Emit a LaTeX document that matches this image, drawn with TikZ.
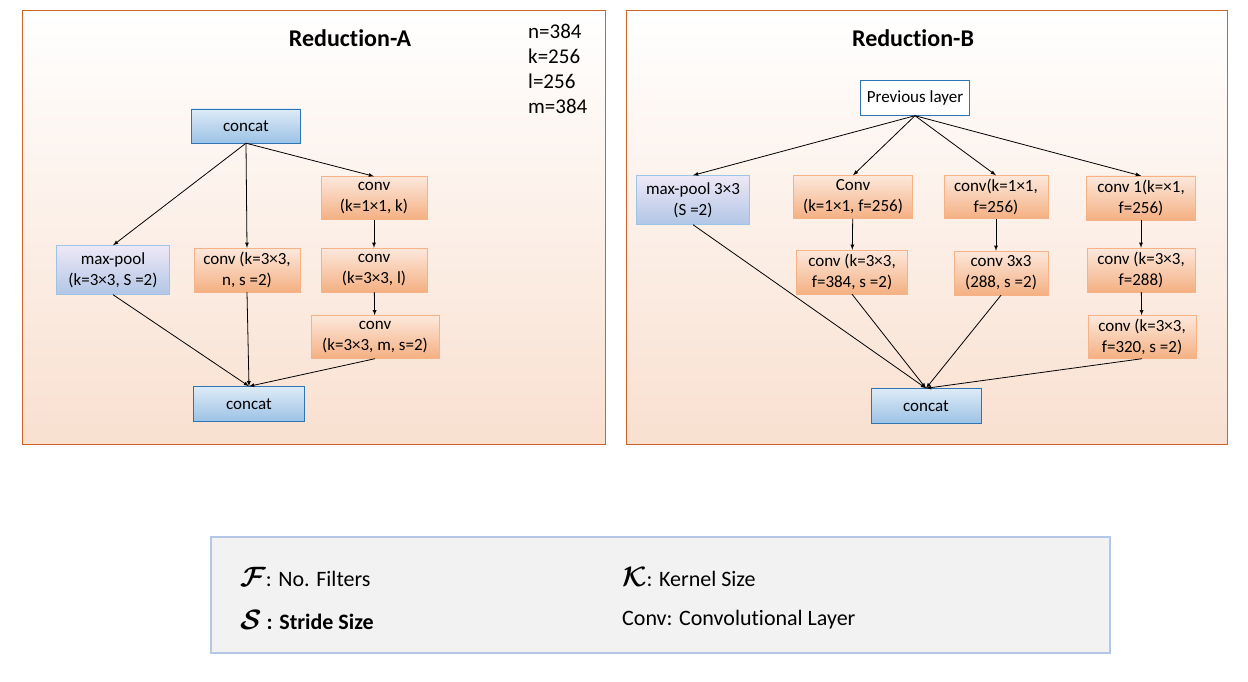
\documentclass[tikz,border=0pt]{standalone}
\usepackage{fontspec}
\setmainfont{Carlito}[Ligatures=NoCommon]
\usepackage{amsmath}
\usepackage{color}

\definecolor{panelline}{RGB}{206,100,40}
\definecolor{panelbot}{RGB}{249,224,208}
\definecolor{convtop}{RGB}{252,232,220}
\definecolor{convbot}{RGB}{244,176,130}
\definecolor{convline}{RGB}{246,178,132}
\definecolor{cattop}{RGB}{222,235,247}
\definecolor{catbot}{RGB}{156,194,229}
\definecolor{catline}{RGB}{46,117,182}
\definecolor{pooltop}{RGB}{238,232,246}
\definecolor{poolbot}{RGB}{178,198,230}
\definecolor{poolline}{RGB}{157,195,230}
\definecolor{keyfill}{RGB}{242,242,242}
\definecolor{keyline}{RGB}{180,199,231}

\newcommand{\keysym}[1]{\scalebox{1.35}{$\boldsymbol{\mathcal{#1}}$}}

\begin{document}
\begin{tikzpicture}
  [x=1pt,y=-1pt]
      \tikzstyle{edge_style} = [draw=black, line width=0.8, -latex]
      \tikzstyle{panel_style} = [draw=panelline, line width=1, top color=white, bottom color=panelbot]
      \tikzstyle{box_style} = [align=center, inner sep=0, font=\fontsize{17}{21}\selectfont]
      \tikzstyle{conv_style} = [box_style, draw=convline, top color=convtop, bottom color=convbot]
      \tikzstyle{cat_style} = [box_style, draw=catline, top color=cattop, bottom color=catbot]
      \tikzstyle{pool_style} = [box_style, draw=poolline, top color=pooltop, bottom color=poolbot]
      \tikzstyle{key_style} = [font=\fontsize{22}{24}\selectfont, anchor=west, inner sep=0]
  \useasboundingbox (0,0) rectangle (1248,682);

  % panels
  \draw[panel_style] (22,11) rectangle (605,444);
  \draw[panel_style] (626,11) rectangle (1227,444);
  \node[font=\fontsize{24}{28}\selectfont\bfseries] (ta) at (350,38) {Reduction-A};
  \node[font=\fontsize{24}{28}\selectfont\bfseries] (tb) at (913,38) {Reduction-B};
  \node[font=\fontsize{21}{25}\selectfont, align=left, anchor=north west, inner sep=0] (par) at (528,24)
    {n=384\\k=256\\l=256\\m=384};

  % Reduction-A
  \node[cat_style, minimum width=109, minimum height=34] (a0) at (246,126) {concat};
  \node[conv_style, minimum width=106, minimum height=43] (a1) at (374,198) {conv\\(k=1×1, k)};
  \node[pool_style, minimum width=113, minimum height=49] (a2) at (113,270) {max-pool\\(k=3×3, S =2)};
  \node[conv_style, minimum width=106, minimum height=44] (a3) at (247,270) {conv (k=3×3,\\n, s =2)};
  \node[conv_style, minimum width=106, minimum height=44] (a4) at (374,270) {conv\\(k=3×3, l)};
  \node[conv_style, minimum width=128, minimum height=43] (a5) at (375,337) {conv\\(k=3×3, m, s=2)};
  \node[cat_style, minimum width=111, minimum height=35] (a6) at (249,404) {concat};

  \draw[edge_style] (a0.south) -- (a2.north);
  \draw[edge_style] (a0.south) -- (a3.north);
  \draw[edge_style] (a0.south) -- (a1.north);
  \draw[edge_style] (a1) -- (a4);
  \draw[edge_style] (a4) -- (a5);
  \draw[edge_style] (a2.south) -- (a6.north);
  \draw[edge_style] (a3.south) -- (a6.north);
  \draw[edge_style] (a5.south) -- (a6.north);

  % Reduction-B
  \node[box_style, draw=catline, fill=white, minimum width=109, minimum height=35] (b0) at (915,98) {Previous layer};
  \node[pool_style, minimum width=113, minimum height=49] (b1) at (693,200) {max-pool 3×3\\(S =2)};
  \node[conv_style, minimum width=119, minimum height=43] (b2) at (853,197) {Conv\\(k=1×1, f=256)};
  \node[conv_style, minimum width=104, minimum height=43] (b3) at (996,197) {conv(k=1×1,\\f=256)};
  \node[conv_style, minimum width=109, minimum height=44] (b4) at (1141,198) {conv 1(k=×1,\\f=256)};
  \node[conv_style, minimum width=111, minimum height=44] (b5) at (852,272) {conv (k=3×3,\\f=384, s =2)};
  \node[conv_style, minimum width=94, minimum height=44] (b6) at (1001,273) {conv 3x3\\(288, s =2)};
  \node[conv_style, minimum width=108, minimum height=44] (b7) at (1141,270) {conv (k=3×3,\\f=288)};
  \node[conv_style, minimum width=108, minimum height=43] (b8) at (1142,337) {conv (k=3×3,\\f=320, s =2)};
  \node[cat_style, minimum width=110, minimum height=35] (b9) at (926,406) {concat};

  \draw[edge_style] (b0.south) -- (b1.north);
  \draw[edge_style] (b0.south) -- (b2.north);
  \draw[edge_style] (b0.south) -- (b3.north);
  \draw[edge_style] (b0.south) -- (b4.north);
  \draw[edge_style] (b2) -- (b5);
  \draw[edge_style] (b3.south) -- (b6.north -| b3.south);
  \draw[edge_style] (b4) -- (b7);
  \draw[edge_style] (b7) -- (b8);
  \draw[edge_style] (b1.south) -- (b9.north);
  \draw[edge_style] (b5.south) -- (b9.north);
  \draw[edge_style] (b6.south) -- (b9.north);
  \draw[edge_style] (b8.south) -- (b9.north);

  % key
  \draw[draw=keyline, line width=1.2, fill=keyfill] (211,537) rectangle (1110,653);
  \node[key_style] (k1) at (240,577) {\keysym{F}: No. Filters};
  \node[key_style] (k2) at (622,577) {\keysym{K}: Kernel Size};
  \node[key_style, font=\fontsize{22}{24}\selectfont\bfseries] (k3) at (240,620) {\keysym{S} : Stride Size};
  \node[key_style] (k4) at (622,620) {Conv: Convolutional Layer};
\end{tikzpicture}
\end{document}
